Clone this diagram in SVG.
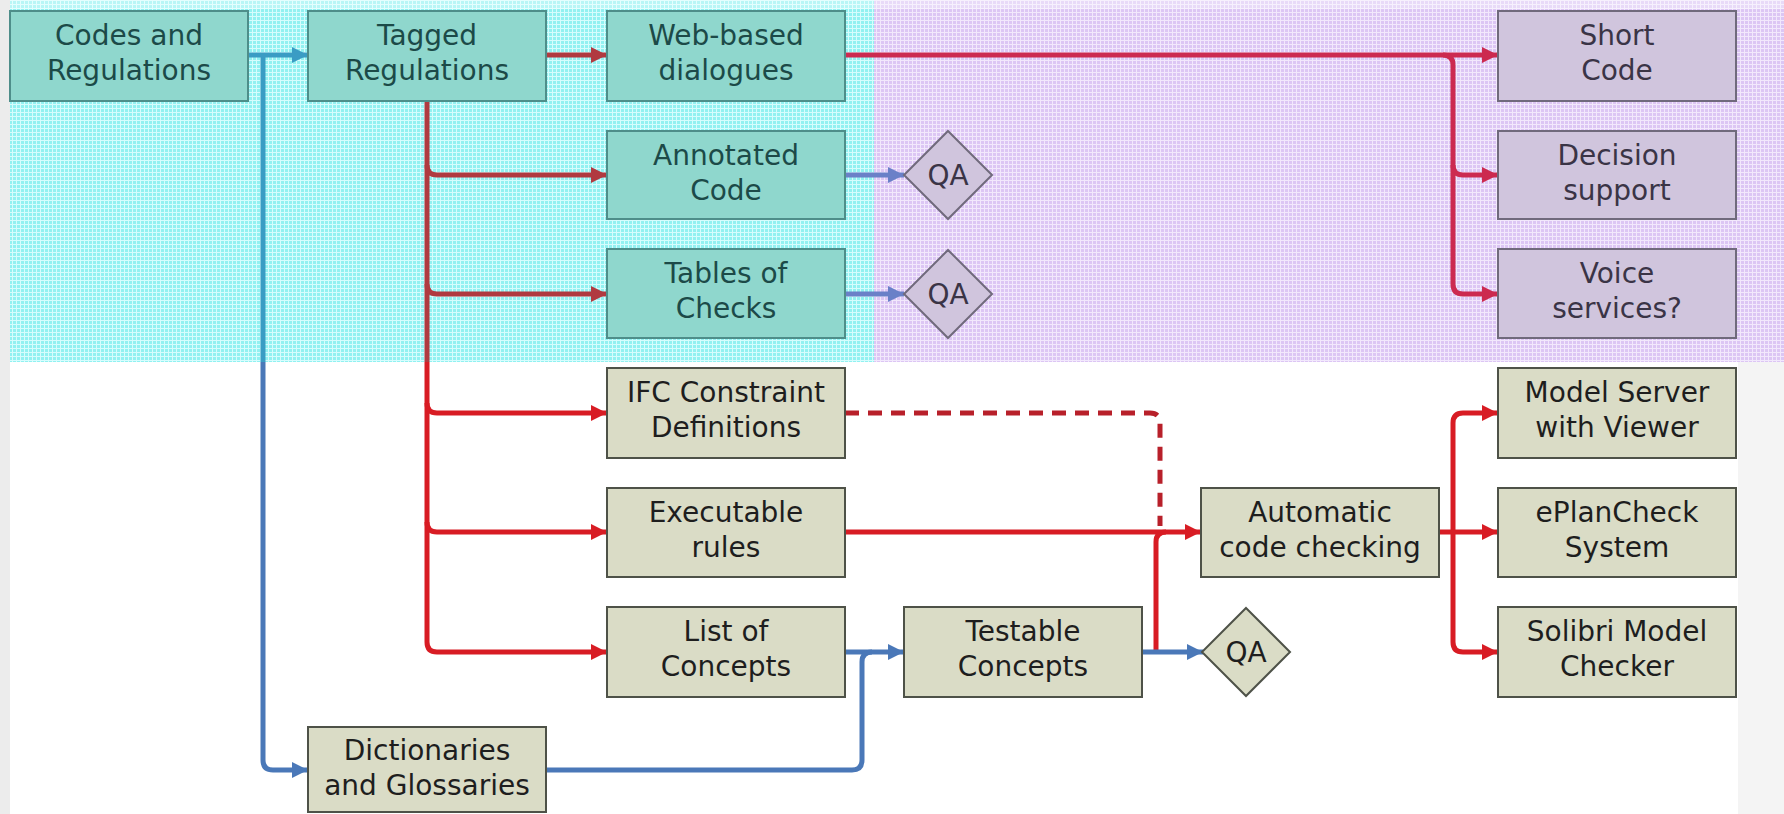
<svg xmlns="http://www.w3.org/2000/svg" width="1784" height="814" viewBox="0 0 1784 814">
<defs>
<pattern id="gc" width="4" height="4" patternUnits="userSpaceOnUse"><rect width="4" height="4" fill="#92f1f1"/><rect width="4" height="1" fill="#d6fdfd"/><rect width="1" height="4" fill="#d6fdfd"/></pattern>
<pattern id="gp" width="4" height="4" patternUnits="userSpaceOnUse"><rect width="4" height="4" fill="#dcc6f4"/><rect width="4" height="1" fill="#f2e8fc"/><rect width="1" height="4" fill="#f2e8fc"/></pattern>
<marker id="aR" viewBox="0 0 10 10" refX="10" refY="5" markerWidth="18" markerHeight="16" markerUnits="userSpaceOnUse" orient="auto"><path d="M0,0 L10,5 L0,10 z" fill="#d81c24"/></marker>
<marker id="aRc" viewBox="0 0 10 10" refX="10" refY="5" markerWidth="18" markerHeight="16" markerUnits="userSpaceOnUse" orient="auto"><path d="M0,0 L10,5 L0,10 z" fill="#b03a40"/></marker>
<marker id="aRp" viewBox="0 0 10 10" refX="10" refY="5" markerWidth="18" markerHeight="16" markerUnits="userSpaceOnUse" orient="auto"><path d="M0,0 L10,5 L0,10 z" fill="#cc2a50"/></marker>
<marker id="aB" viewBox="0 0 10 10" refX="10" refY="5" markerWidth="18" markerHeight="16" markerUnits="userSpaceOnUse" orient="auto"><path d="M0,0 L10,5 L0,10 z" fill="#4a78b8"/></marker>
<marker id="aBc" viewBox="0 0 10 10" refX="10" refY="5" markerWidth="18" markerHeight="16" markerUnits="userSpaceOnUse" orient="auto"><path d="M0,0 L10,5 L0,10 z" fill="#3a9cc4"/></marker>
<marker id="aBp" viewBox="0 0 10 10" refX="10" refY="5" markerWidth="18" markerHeight="16" markerUnits="userSpaceOnUse" orient="auto"><path d="M0,0 L10,5 L0,10 z" fill="#6a80c8"/></marker>
</defs>
<style>
text{font-family:"DejaVu Sans","Liberation Sans",sans-serif;font-size:28px;text-anchor:middle}
.bc{fill:#8fd7cd;stroke:#4e8e8a;stroke-width:2}
.tc{fill:#1c4a48}
.bp{fill:#d0c5dd;stroke:#706a7c;stroke-width:2}
.tp{fill:#3a3446}
.bl{fill:#dadcc6;stroke:#4e5248;stroke-width:2}
.tl{fill:#1e1e1e}
.c{fill:none;stroke-width:5;stroke-linecap:butt}
.r{stroke:#d81c24}
.rc{stroke:#b03a40}
.rp{stroke:#cc2a50}
.b{stroke:#4a78b8}
.bcy{stroke:#3a9cc4}
.bpu{stroke:#6a80c8}
</style>
<rect width="1784" height="814" fill="#ffffff"/>
<rect x="10" y="0" width="864" height="362" fill="url(#gc)"/>
<rect x="874" y="0" width="910" height="362" fill="url(#gp)"/>
<rect x="10" y="0" width="1774" height="9" fill="#ffffff" opacity="0.35"/>
<rect x="0" y="0" width="10" height="814" fill="#ececec"/>
<rect x="1738" y="362" width="46" height="452" fill="#f4f4f4"/>

<g id="connectors">
<path class="c bcy" d="M249,55 L308,55" marker-end="url(#aBc)"/>
<path class="c bcy" d="M263,55 L263,362"/>
<path class="c b" d="M263,362 L263,760 Q263,770 273,770 L308,770" marker-end="url(#aB)"/>
<path class="c rc" d="M546,55 L607,55" marker-end="url(#aRc)"/>
<path class="c rc" d="M427,101 L427,362"/>
<path class="c rc" d="M427,165 Q427,175 437,175 L607,175" marker-end="url(#aRc)"/>
<path class="c rc" d="M427,284 Q427,294 437,294 L607,294" marker-end="url(#aRc)"/>
<path class="c r" d="M427,362 L427,642 Q427,652 437,652 L607,652" marker-end="url(#aR)"/>
<path class="c r" d="M427,403 Q427,413 437,413 L607,413" marker-end="url(#aR)"/>
<path class="c r" d="M427,522 Q427,532 437,532 L607,532" marker-end="url(#aR)"/>
<path class="c rp" d="M845,55 L1498,55" marker-end="url(#aRp)"/>
<path class="c rp" d="M1443,55 Q1453,55 1453,65 L1453,284 Q1453,294 1463,294 L1498,294" marker-end="url(#aRp)"/>
<path class="c rp" d="M1453,165 Q1453,175 1463,175 L1498,175" marker-end="url(#aRp)"/>
<path class="c bpu" d="M845,175 L904,175" marker-end="url(#aBp)"/>
<path class="c bpu" d="M845,294 L904,294" marker-end="url(#aBp)"/>
<path class="c r" d="M845,413 L1150,413 Q1160,413 1160,423 L1160,526" stroke-dasharray="14 9" style="stroke:#b8202a"/>
<path class="c r" d="M845,532 L1201,532" marker-end="url(#aR)"/>
<path class="c r" d="M1156,652 L1156,542 Q1156,532 1166,532"/>
<path class="c b" d="M845,652 L904,652" marker-end="url(#aB)"/>
<path class="c b" d="M546,770 L852,770 Q862,770 862,760 L862,662 Q862,652 872,652"/>
<path class="c b" d="M1142,652 L1203,652" marker-end="url(#aB)"/>
<path class="c r" d="M1439,532 L1498,532" marker-end="url(#aR)"/>
<path class="c r" d="M1453,532 L1453,423 Q1453,413 1463,413 L1498,413" marker-end="url(#aR)"/>
<path class="c r" d="M1453,532 L1453,642 Q1453,652 1463,652 L1498,652" marker-end="url(#aR)"/>
</g>

<g id="codes"><rect class="bc" x="10" y="11" width="238" height="90"/><text class="tc" x="129" y="45">Codes and</text><text class="tc" x="129" y="80">Regulations</text></g>
<g id="tagged"><rect class="bc" x="308" y="11" width="238" height="90"/><text class="tc" x="427" y="45">Tagged</text><text class="tc" x="427" y="80">Regulations</text></g>
<g id="web"><rect class="bc" x="607" y="11" width="238" height="90"/><text class="tc" x="726" y="45">Web-based</text><text class="tc" x="726" y="80">dialogues</text></g>
<g id="annotated"><rect class="bc" x="607" y="131" width="238" height="88"/><text class="tc" x="726" y="165">Annotated</text><text class="tc" x="726" y="200">Code</text></g>
<g id="tables"><rect class="bc" x="607" y="249" width="238" height="89"/><text class="tc" x="726" y="283">Tables of</text><text class="tc" x="726" y="318">Checks</text></g>
<g id="qa1"><path class="bp" d="M948,131 L992,175 L948,219 L904,175 z"/><text class="tp" x="948" y="185">QA</text></g>
<g id="qa2"><path class="bp" d="M948,250 L992,294 L948,338 L904,294 z"/><text class="tp" x="948" y="304">QA</text></g>
<g id="short"><rect class="bp" x="1498" y="11" width="238" height="90"/><text class="tp" x="1617" y="45">Short</text><text class="tp" x="1617" y="80">Code</text></g>
<g id="decision"><rect class="bp" x="1498" y="131" width="238" height="88"/><text class="tp" x="1617" y="165">Decision</text><text class="tp" x="1617" y="200">support</text></g>
<g id="voice"><rect class="bp" x="1498" y="249" width="238" height="89"/><text class="tp" x="1617" y="283">Voice</text><text class="tp" x="1617" y="318">services?</text></g>
<g id="ifc"><rect class="bl" x="607" y="368" width="238" height="90"/><text class="tl" x="726" y="402">IFC Constraint</text><text class="tl" x="726" y="437">Definitions</text></g>
<g id="executable"><rect class="bl" x="607" y="488" width="238" height="89"/><text class="tl" x="726" y="522">Executable</text><text class="tl" x="726" y="557">rules</text></g>
<g id="list"><rect class="bl" x="607" y="607" width="238" height="90"/><text class="tl" x="726" y="641">List of</text><text class="tl" x="726" y="676">Concepts</text></g>
<g id="testable"><rect class="bl" x="904" y="607" width="238" height="90"/><text class="tl" x="1023" y="641">Testable</text><text class="tl" x="1023" y="676">Concepts</text></g>
<g id="dictionaries"><rect class="bl" x="308" y="727" width="238" height="85"/><text class="tl" x="427" y="760">Dictionaries</text><text class="tl" x="427" y="795">and Glossaries</text></g>
<g id="automatic"><rect class="bl" x="1201" y="488" width="238" height="89"/><text class="tl" x="1320" y="522">Automatic</text><text class="tl" x="1320" y="557">code checking</text></g>
<g id="qa3"><path class="bl" d="M1246,608 L1290,652 L1246,696 L1202,652 z"/><text class="tl" x="1246" y="662">QA</text></g>
<g id="modelserver"><rect class="bl" x="1498" y="368" width="238" height="90"/><text class="tl" x="1617" y="402">Model Server</text><text class="tl" x="1617" y="437">with Viewer</text></g>
<g id="eplancheck"><rect class="bl" x="1498" y="488" width="238" height="89"/><text class="tl" x="1617" y="522">ePlanCheck</text><text class="tl" x="1617" y="557">System</text></g>
<g id="solibri"><rect class="bl" x="1498" y="607" width="238" height="90"/><text class="tl" x="1617" y="641">Solibri Model</text><text class="tl" x="1617" y="676">Checker</text></g>
</svg>
